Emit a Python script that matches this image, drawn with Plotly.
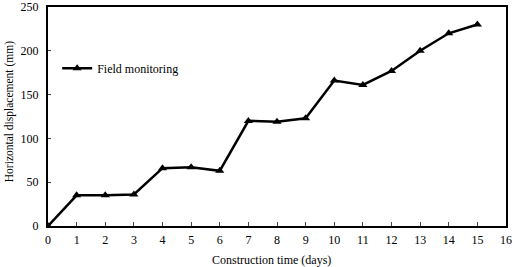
import plotly.graph_objects as go

days = list(range(16))
displacement = [0, 35, 35, 36, 66, 67, 63, 120, 119, 123, 166, 161, 177, 200, 220, 230]
x_ticks = list(range(0, 17))
y_ticks = [0, 50, 100, 150, 200, 250]

font = "Liberation Serif, Times New Roman, serif"

fig = go.Figure()
fig.add_trace(go.Scatter(
    x=days, y=displacement, mode="lines+markers", name="Field monitoring",
    line=dict(color="black", width=2.5),
    marker=dict(symbol="triangle-up", size=8, color="black"),
))

fig.update_layout(
    width=512, height=267,
    margin=dict(l=48, r=6, t=7, b=41),
    paper_bgcolor="white", plot_bgcolor="white",
    font=dict(family=font, size=12, color="black"),
    showlegend=True,
    legend=dict(x=0.02, y=0.72, xanchor="left", yanchor="middle",
                bgcolor="rgba(0,0,0,0)", font=dict(size=12)),
    xaxis=dict(range=[0, 16], tickvals=x_ticks, ticks="inside", ticklen=4,
               showline=True, linecolor="black", linewidth=2, mirror=True,
               showgrid=False, zeroline=False, automargin=False,
               ticklabeloverflow="allow", ticklabelstandoff=2),
    yaxis=dict(range=[0, 250], tickvals=y_ticks, ticks="inside", ticklen=3,
               ticklabelstandoff=5, ticklabeloverflow="allow",
               showline=True, linecolor="black", linewidth=2, mirror=True,
               showgrid=False, zeroline=False, automargin=False),
    annotations=[
        dict(text="Construction time (days)", xref="paper", yref="paper",
             x=0.487, y=-0.155, xanchor="center", yanchor="middle",
             showarrow=False, font=dict(size=12)),
        dict(text="Horizontal displacement (mm)", xref="paper", yref="paper",
             x=-0.085, y=0.52, xanchor="center", yanchor="middle", textangle=-90,
             showarrow=False, font=dict(size=11.5)),
    ],
)

fig.write_html("out.html", config={"displayModeBar": False},
               post_script="document.body.style.margin='0';document.body.style.overflow='hidden';")
